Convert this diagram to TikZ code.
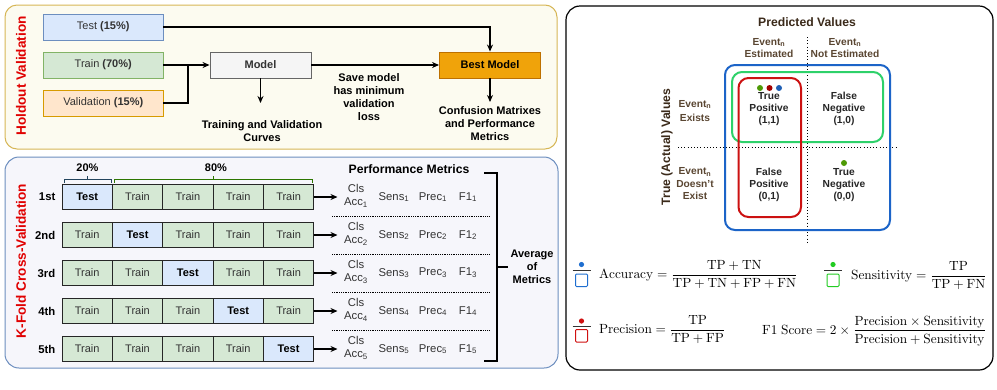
\documentclass[tikz,border=0pt]{standalone}
\usepackage[no-math]{fontspec}
\usepackage{graphicx}
\setmainfont{Liberation Sans}
\usetikzlibrary{arrows.meta,calc}
\definecolor{panAfill}{HTML}{FCFBF0}
\definecolor{panAdraw}{HTML}{D6B656}
\definecolor{panBfill}{HTML}{F6F6FB}
\definecolor{panBdraw}{HTML}{6C8EBF}
\definecolor{testc}{HTML}{DAE8FC}
\definecolor{testd}{HTML}{6C8EBF}
\definecolor{trainc}{HTML}{D5E8D4}
\definecolor{traind}{HTML}{82B366}
\definecolor{valc}{HTML}{FFE6CC}
\definecolor{vald}{HTML}{D79B00}
\definecolor{modc}{HTML}{F5F5F5}
\definecolor{modd}{HTML}{666666}
\definecolor{bestc}{HTML}{F0A30A}
\definecolor{bestd}{HTML}{BD7000}
\definecolor{redtitle}{HTML}{E00000}
\definecolor{txtg}{HTML}{333333}
\definecolor{navyb}{HTML}{23445D}
\definecolor{greenb}{HTML}{2D7600}
\definecolor{brownt}{HTML}{5A4632}
\definecolor{browntd}{HTML}{3B2A1A}
\definecolor{cmblue}{HTML}{1C64C8}
\definecolor{cmgreen}{HTML}{2ED16A}
\definecolor{cmred}{HTML}{CC1111}
\definecolor{dotgreen}{HTML}{4E9A06}
\definecolor{dotred}{HTML}{A40000}
\definecolor{dotblue}{HTML}{1F5FB4}
\definecolor{icgreen}{HTML}{22CC22}
\definecolor{icblue}{HTML}{1F6FD0}
\definecolor{icred}{HTML}{D01010}
\newcommand\fsA{\fontsize{11}{13}\selectfont}
\newcommand\fsL{\fontsize{11}{13}\selectfont}
\newcommand\fsK{\fontsize{11.3}{13}\selectfont}
\newcommand\fsB{\fontsize{12.2}{14}\selectfont}
\newcommand\fsC{\fontsize{10.2}{12}\selectfont}
\newcommand\fsT{\fontsize{13.6}{16}\selectfont}
\newcommand\fmla[1]{\scalebox{1.33}{\fontsize{10}{12}\selectfont$\displaystyle #1$}}
\begin{document}
\begin{tikzpicture}[x=1pt,y=-1pt,
  arr/.style={line width=1.2pt,-{Stealth[length=7pt,width=6pt]}},
  ln/.style={line width=1.2pt},
  hbox/.style={draw,line width=0.9pt,minimum width=119.5pt,minimum height=26pt,inner sep=0pt,font=\fsA,text=txtg},
  mbox/.style={draw,line width=0.9pt,minimum width=101pt,minimum height=26pt,inner sep=0pt,font=\fsA\bfseries},
  lbl/.style={font=\fsL\bfseries,align=center,inner sep=0pt},
  cell/.style={draw=black!85,line width=1pt,minimum width=50.35pt,minimum height=25.5pt,inner sep=0pt,font=\fsA,text=txtg},
  rowlab/.style={font=\fsK\bfseries,inner sep=0pt},
  met/.style={font=\fsK,text=txtg,inner sep=0pt},
  sep/.style={line width=0.7pt,dash pattern=on 0.8pt off 1pt},
  title/.style={font=\fsT\bfseries,text=redtitle,rotate=90,inner sep=0pt},
  cmtxt/.style={font=\fsC\bfseries,align=center,inner sep=0pt,text=black!85},
  evt/.style={font=\fsC\bfseries,align=center,inner sep=0pt,text=brownt},
  cdot/.style={line width=0.9pt,dash pattern=on 1pt off 2.2pt},
  formula/.style={inner sep=0pt,anchor=base west}]
\useasboundingbox (0,0) rectangle (997,389);
% panels
\draw[rounded corners=12pt,fill=panAfill,draw=panAdraw,line width=1pt] (5,5) rectangle (557,149);
\draw[rounded corners=14pt,fill=panBfill,draw=panBdraw,line width=1pt] (5,157) rectangle (558,368);
\draw[rounded corners=14pt,fill=white,draw=black,line width=1.2pt] (566,6) rectangle (993,370);
% ---------------- Holdout ----------------
\node[title] (hold) at (21,76) {Holdout Validation};
\node[hbox,fill=testc,draw=testd] (test) at (103.25,27) {Test \textbf{(15\%)}};
\node[hbox,fill=trainc,draw=traind] (train) at (103.25,65) {Train \textbf{(70\%)}};
\node[hbox,fill=valc,draw=vald] (val) at (103.25,103) {Validation \textbf{(15\%)}};
\node[mbox,fill=modc,draw=modd,text=txtg] (model) at (260.5,65) {Model};
\node[mbox,fill=bestc,draw=bestd,text=black] (best) at (490,65) {Best Model};
\coordinate (mj) at (188,65);
\draw[arr] (train.east) -- (model.west);
\draw[ln] (val.east) -| (mj);
\draw[arr] (model.east) -- (best.west);
\draw[arr] (test.east) -| (best.north);
\coordinate (mdown) at (260.5,103);
\coordinate (bdown) at (490,102);
\draw[arr] (model.south) -- (mdown);
\draw[arr] (best.south) -- (bdown);
\node[lbl] (curves) at (262,131.5) {Training and Validation\\Curves};
\node[lbl] (save) at (369,97.5) {Save model\\has minimum\\validation\\loss};
\node[lbl] (conf) at (490,124) {Confusion Matrixes\\and Performance\\Metrics};
% ---------------- K-Fold ----------------
\node[title] (kfold) at (21,261) {K-Fold Cross-Validation};
\coordinate (b20a) at (64,182.5); \coordinate (b20b) at (111,182.5);
\draw[navyb,line width=1pt] (b20a) -- ++(0,-3.5) -| (b20b);
\coordinate (b20m) at (87.5,179); \draw[navyb,line width=1pt] (b20m) -- ++(0,-3);
\node[lbl] (p20) at (87.5,168) {20\%};
\coordinate (b80a) at (114.5,182.5); \coordinate (b80b) at (312,182.5);
\draw[greenb,line width=1pt] (b80a) -- ++(0,-3.5) -| (b80b);
\coordinate (b80m) at (213,179); \draw[greenb,line width=1pt] (b80m) -- ++(0,-3);
\node[lbl] (p80) at (216,168) {80\%};
\node[lbl,font=\fsB\bfseries] (pm) at (409,169) {Performance Metrics};
\foreach \rw/\lab in {1/1st,2/2nd,3/3rd,4/4th,5/5th}{
  \pgfmathsetmacro\yy{197+38*(\rw-1)}
  \node[rowlab,anchor=east] (lab\rw) at (55.5,\yy) {\lab};
  \foreach \cl in {1,...,5}{
    \pgfmathsetmacro\xx{62+50.35*(\cl-0.5)}
    \ifnum\cl=\rw
      \node[cell,fill=testc,font=\fsA\bfseries,text=black] (c\rw-\cl) at (\xx,\yy) {Test};
    \else
      \node[cell,fill=trainc] (c\rw-\cl) at (\xx,\yy) {Train};
    \fi
  }
  \coordinate (ar\rw) at (337.5,\yy);
  \draw[arr] (c\rw-5.east) -- (ar\rw);
  \node[met,align=center] (acc\rw) at (356,\yy-1) {Cls\\Acc\textsubscript{\rw}};
  \node[met] (sens\rw) at (394,\yy) {Sens\textsubscript{\rw}};
  \node[met] (prec\rw) at (433,\yy) {Prec\textsubscript{\rw}};
  \node[met] (f\rw) at (468,\yy) {F1\textsubscript{\rw}};
  \ifnum\rw<5
    \coordinate (sa\rw) at (332,\yy+19);
    \coordinate (sb\rw) at (490,\yy+19);
    \draw[sep] (sa\rw) -- (sb\rw);
  \fi
}
\coordinate (bk1) at (484,173); \coordinate (bk2) at (497,173);
\coordinate (bk3) at (497,361); \coordinate (bk4) at (484,361);
\coordinate (bkm) at (497,267); \coordinate (bkt) at (508,267);
\draw[line width=1.1pt] (bk1) -- (bk2) -- (bk3) -- (bk4);
\draw[line width=1.1pt] (bkm) -- (bkt);
\node[lbl] (avg) at (532,267) {Average\\of\\Metrics};
% ---------------- Confusion matrix ----------------
\node[lbl,font=\fsB\bfseries,text=browntd] (pv) at (807,22) {Predicted Values};
\node[evt] (ee) at (769,48) {Event\textsubscript{n}\\Estimated};
\node[evt] (ene) at (845,48) {Event\textsubscript{n}\\Not Estimated};
\node[evt] (ex) at (695,111) {Event\textsubscript{n}\\[2pt]Exists};
\node[evt] (dne) at (695,184) {Event\textsubscript{n}\\[1pt]Doesn't\\Exist};
\node[lbl,font=\fsB\bfseries,text=browntd,rotate=90] (tav) at (667,147) {True (Actual) Values};
\coordinate (vt) at (807,37); \coordinate (vb) at (807,243);
\coordinate (hl) at (678,147); \coordinate (hr) at (898,147);
\draw[cdot] (vt) -- (vb);
\draw[cdot] (hl) -- (hr);
\draw[cmblue,line width=2pt,rounded corners=10pt] (725,65) rectangle (890,230);
\draw[cmgreen,line width=2pt,rounded corners=10pt] (732,72) rectangle (883,142);
\draw[cmred,line width=2pt,rounded corners=10pt] (738.5,78) rectangle (801,217);
\fill[dotgreen] (760,88) circle (3);
\fill[dotred] (769.5,88) circle (3);
\fill[dotblue] (779,88) circle (3);
\fill[dotgreen] (844,163) circle (3);
\node[cmtxt] (tp) at (769,109) {True\\Positive\\(1,1)};
\node[cmtxt] (fn) at (844,109) {False\\Negative\\(1,0)};
\node[cmtxt] (fp) at (769,185) {False\\Positive\\(0,1)};
\node[cmtxt] (tn) at (844,185) {True\\Negative\\(0,0)};
% ---------------- Formulas ----------------
\fill[icblue] (581.5,264.5) circle (2.6);
\draw[black!80,line width=0.8pt] (572.5,270.5) -- (590.5,270.5);
\draw[icblue,line width=1pt,rounded corners=1pt] (575.5,274) rectangle (587.5,286.5);
\node[formula] (facc) at (599,278.5) {\fmla{\mathrm{Accuracy}=\frac{\mathrm{TP}+\mathrm{TN}}{\mathrm{TP}+\mathrm{TN}+\mathrm{FP}+\mathrm{FN}}}};
\fill[icgreen] (833,264.5) circle (2.6);
\draw[black!80,line width=0.8pt] (824,270.5) -- (842,270.5);
\draw[icgreen,line width=1pt,rounded corners=1pt] (827,274) rectangle (839,286.5);
\node[formula] (fsen) at (851,279.5) {\fmla{\mathrm{Sensitivity}=\frac{\mathrm{TP}}{\mathrm{TP}+\mathrm{FN}}}};
\fill[icred] (581.5,321) circle (2.6);
\draw[black!80,line width=0.8pt] (572.5,326.5) -- (590.5,326.5);
\draw[icred,line width=1pt,rounded corners=1pt] (575.5,329.5) rectangle (587.5,342);
\node[formula] (fpre) at (599,333.5) {\fmla{\mathrm{Precision}=\frac{\mathrm{TP}}{\mathrm{TP}+\mathrm{FP}}}};
\node[formula] (ff1) at (762,334) {\fmla{\mathrm{F1\ Score}=2\times\frac{\mathrm{Precision}\times\mathrm{Sensitivity}}{\mathrm{Precision}+\mathrm{Sensitivity}}}};
\end{tikzpicture}
\end{document}
